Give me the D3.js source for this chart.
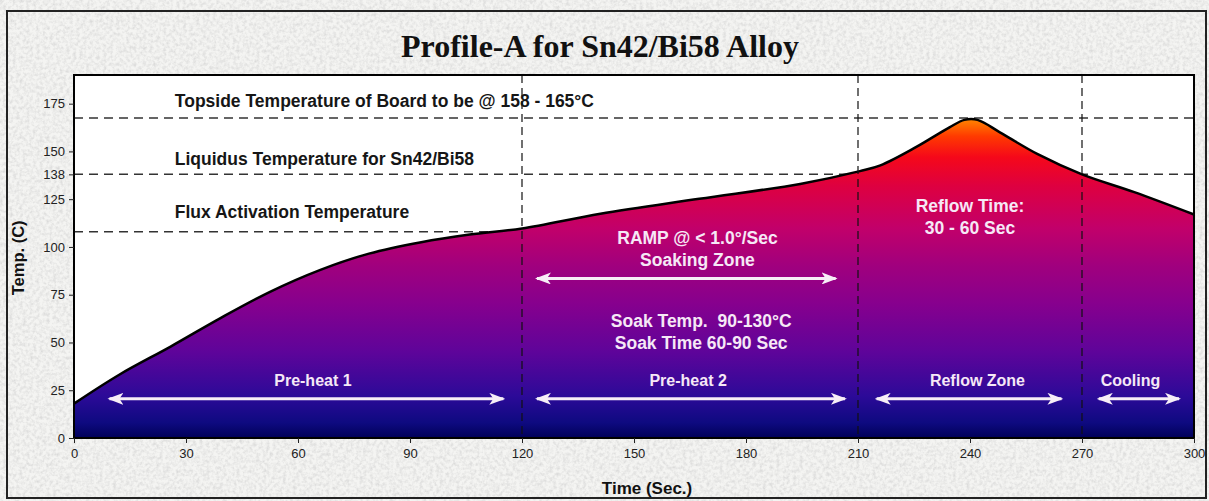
<!DOCTYPE html>
<html>
<head>
<meta charset="utf-8">
<script src="https://cdn.jsdelivr.net/npm/d3@7"></script>
<style>
  body { margin: 0; background: #fff; }
  svg { display: block; }
</style>
</head>
<body>
<script>
// profile data
const times = [0, 12, 26, 39, 52.5, 66, 79, 93, 106, 120, 141, 167.5, 194.5, 210.5, 216, 225.5, 234.5, 238.5, 242, 248, 258, 270, 284, 300]
const temps = [18, 33, 48, 62.5, 76.5, 88, 96.5, 102.5, 106.5, 109.7, 117.4, 125.2, 133, 139.7, 142.7, 152.2, 162.6, 166.5, 166.5, 160, 148.7, 138, 128.7, 117]

const xTicks = [0, 30, 60, 90, 120, 150, 180, 210, 240, 270, 300]
const yTicks = [0, 25, 50, 75, 100, 125, 138, 150, 175]

// reference lines
const refTemps = [167.5, 138, 108]
const refLabels = [
  "Topside Temperature of Board to be @ 158 - 165°C",
  "Liquidus Temperature for Sn42/Bi58",
  "Flux Activation Temperature",
]
const refLabelTemps = [176.5, 146, 118.5]
const zoneBounds = [120, 210, 270]

// zone arrows
const arrowFrom = [9.5, 124, 215, 274.5, 124]
const arrowTo = [115, 206.5, 264.5, 296, 204]
const arrowTemp = [20.5, 20.5, 20.5, 20.5, 83.5]
const zoneLabels = ["Pre-heat 1", "Pre-heat 2", "Reflow Zone", "Cooling"]
const zoneLabelTimes = [64, 164.5, 242, 283]
const zoneLabelTemp = 30

// white notes inside the fill
const notes = ["RAMP @ < 1.0°/Sec", "Soaking Zone", "Soak Temp.  90-130°C", "Soak Time 60-90 Sec", "Reflow Time:", "30 - 60 Sec"]
const noteTimes = [167, 167, 168, 168, 240, 240]
const noteTemps = [104.5, 93, 61.5, 50, 121.5, 110]

const data = times.map((t, i) => ({ t, v: temps[i] }))

const dimensions = {
  width: 1209,
  height: 501,
  margin: { top: 75, right: 15, bottom: 63, left: 74 },
}
dimensions.boundedWidth = 1194 - dimensions.margin.left
dimensions.boundedHeight = 438 - dimensions.margin.top

const svg = d3.select("body").append("svg")
  .attr("width", dimensions.width)
  .attr("height", dimensions.height)

const defs = svg.append("defs")

// marble-ish paper texture
const filt = defs.append("filter").attr("id", "marble")
  .attr("x", 0).attr("y", 0).attr("width", 1).attr("height", 1)
filt.append("feTurbulence")
  .attr("type", "fractalNoise")
  .attr("baseFrequency", 0.3)
  .attr("numOctaves", 3)
  .attr("seed", 4)
filt.append("feColorMatrix")
  .attr("type", "matrix")
  .attr("values", "0 0 0 0 0.6  0 0 0 0 0.6  0 0 0 0 0.6  0 0 0 -1.2 0.75")
filt.append("feComposite").attr("in2", "SourceGraphic").attr("operator", "in")

svg.append("rect")
  .attr("x", 0).attr("y", 0)
  .attr("width", dimensions.width).attr("height", dimensions.height)
  .attr("fill", "#f4f4f2")
svg.append("rect")
  .attr("x", 0).attr("y", 0)
  .attr("width", dimensions.width).attr("height", dimensions.height)
  .attr("fill", "#e4e4e2")
  .attr("filter", "url(#marble)")

// outer frame
svg.append("rect")
  .attr("x", 7).attr("y", 11)
  .attr("width", 1199).attr("height", 487)
  .attr("fill", "none")
  .attr("stroke", "#222")
  .attr("stroke-width", 2)

// title
svg.append("text")
  .attr("x", 600)
  .attr("y", 57)
  .attr("text-anchor", "middle")
  .style("font-family", "'Liberation Serif', 'Times New Roman', serif")
  .style("font-weight", "bold")
  .style("font-size", "32px")
  .attr("fill", "#111")
  .text("Profile-A for Sn42/Bi58 Alloy")

const bounds = svg.append("g")
  .attr("transform", `translate(${dimensions.margin.left}, ${dimensions.margin.top})`)

const xScale = d3.scaleLinear()
  .domain([0, 300])
  .range([0, dimensions.boundedWidth])

const yScale = d3.scaleLinear()
  .domain([0, 190])
  .range([dimensions.boundedHeight, 0])

bounds.append("rect")
  .attr("width", dimensions.boundedWidth)
  .attr("height", dimensions.boundedHeight)
  .attr("fill", "#fff")

// gradient for the area
const peak = d3.max(temps)
const grad = defs.append("linearGradient")
  .attr("id", "heat")
  .attr("gradientUnits", "userSpaceOnUse")
  .attr("x1", 0).attr("x2", 0)
  .attr("y1", yScale(peak)).attr("y2", yScale(0))
const stops = [
  [166, "#ff7e00"], [158, "#ff3a00"], [147, "#f5081a"], [132, "#de0040"],
  [110, "#c2006a"], [90, "#a0007e"], [70, "#86008e"], [45, "#5e049a"],
  [22, "#2c0a98"], [8, "#0e0a80"], [0, "#000058"],
]
stops.forEach(([v, c]) => {
  grad.append("stop")
    .attr("offset", (yScale(v) - yScale(peak)) / (yScale(0) - yScale(peak)))
    .attr("stop-color", c)
})

// horizontal reference lines (behind the fill)
bounds.selectAll(".ref")
  .data(refTemps)
  .join("line")
    .attr("class", "ref")
    .attr("x1", 0)
    .attr("x2", dimensions.boundedWidth)
    .attr("y1", d => yScale(d))
    .attr("y2", d => yScale(d))
    .attr("stroke", "#333")
    .attr("stroke-width", 1.5)
    .attr("stroke-dasharray", "9 6")

const curve = d3.curveCatmullRom.alpha(0.5)

const area = d3.area()
  .x(d => xScale(d.t))
  .y0(yScale(0))
  .y1(d => yScale(d.v))
  .curve(curve)

bounds.append("path")
  .datum(data)
  .attr("d", area)
  .attr("fill", "url(#heat)")

const line = d3.line()
  .x(d => xScale(d.t))
  .y(d => yScale(d.v))
  .curve(curve)

bounds.append("path")
  .datum(data)
  .attr("d", line)
  .attr("fill", "none")
  .attr("stroke", "#000")
  .attr("stroke-width", 2.5)
  .attr("stroke-linejoin", "round")

// zone separators
bounds.selectAll(".zone")
  .data(zoneBounds)
  .join("line")
    .attr("class", "zone")
    .attr("x1", d => xScale(d))
    .attr("x2", d => xScale(d))
    .attr("y1", 0)
    .attr("y2", dimensions.boundedHeight)
    .attr("stroke", "#111")
    .attr("stroke-width", 1.2)
    .attr("stroke-dasharray", "8 5")

// reference labels
bounds.selectAll(".refLabel")
  .data(refLabels)
  .join("text")
    .attr("class", "refLabel")
    .attr("x", xScale(27))
    .attr("y", (d, i) => yScale(refLabelTemps[i]))
    .attr("dy", "0.35em")
    .style("font-family", "'Liberation Sans', Arial, sans-serif")
    .style("font-weight", "bold")
    .style("font-size", "17.5px")
    .attr("fill", "#161616")
    .text(d => d)

// arrows
defs.append("marker")
  .attr("id", "arrow")
  .attr("viewBox", "0 0 16 12")
  .attr("refX", 14).attr("refY", 6)
  .attr("markerWidth", 16).attr("markerHeight", 12)
  .attr("markerUnits", "userSpaceOnUse")
  .attr("orient", "auto-start-reverse")
  .append("path")
    .attr("d", "M0,0 L16,6 L0,12 L4,6 Z")
    .attr("fill", "#f7eef7")

bounds.selectAll(".arrow")
  .data(arrowFrom)
  .join("line")
    .attr("class", "arrow")
    .attr("x1", d => xScale(d))
    .attr("x2", (d, i) => xScale(arrowTo[i]))
    .attr("y1", (d, i) => yScale(arrowTemp[i]))
    .attr("y2", (d, i) => yScale(arrowTemp[i]))
    .attr("stroke", "#f7eef7")
    .attr("stroke-width", 3)
    .attr("marker-start", "url(#arrow)")
    .attr("marker-end", "url(#arrow)")

const whiteText = sel => sel
  .attr("text-anchor", "middle")
  .attr("dy", "0.35em")
  .style("font-family", "'Liberation Sans', Arial, sans-serif")
  .style("font-weight", "bold")
  .style("white-space", "pre")
  .attr("fill", "#f6e8f6")

bounds.selectAll(".zoneLabel")
  .data(zoneLabels)
  .join("text")
    .attr("class", "zoneLabel")
    .attr("x", (d, i) => xScale(zoneLabelTimes[i]))
    .attr("y", yScale(zoneLabelTemp))
    .call(whiteText)
    .style("font-size", "16px")
    .text(d => d)

bounds.selectAll(".note")
  .data(notes)
  .join("text")
    .attr("class", "note")
    .attr("x", (d, i) => xScale(noteTimes[i]))
    .attr("y", (d, i) => yScale(noteTemps[i]))
    .call(whiteText)
    .style("font-size", "17.5px")
    .text(d => d)

// plot frame
bounds.append("rect")
  .attr("width", dimensions.boundedWidth)
  .attr("height", dimensions.boundedHeight)
  .attr("fill", "none")
  .attr("stroke", "#000")
  .attr("stroke-width", 2)

// axes
const xAxis = bounds.append("g")
  .attr("transform", `translate(0, ${dimensions.boundedHeight})`)
  .call(d3.axisBottom(xScale).tickValues(xTicks).tickSize(5).tickPadding(6))
const yAxis = bounds.append("g")
  .call(d3.axisLeft(yScale).tickValues(yTicks).tickSize(5).tickPadding(4))

;[xAxis, yAxis].forEach(ax => {
  ax.select(".domain").remove()
  ax.selectAll("line").attr("stroke", "#222")
  ax.selectAll("text")
    .style("font-family", "'Liberation Sans', Arial, sans-serif")
    .style("font-size", "13px")
    .attr("fill", "#222")
})

svg.append("text")
  .attr("x", dimensions.margin.left + xScale(153.5))
  .attr("y", 494)
  .attr("text-anchor", "middle")
  .style("font-family", "'Liberation Sans', Arial, sans-serif")
  .style("font-weight", "bold")
  .style("font-size", "17px")
  .attr("fill", "#111")
  .text("Time (Sec.)")

svg.append("text")
  .attr("transform", `translate(24, ${dimensions.margin.top + yScale(94.3)}) rotate(-90)`)
  .attr("text-anchor", "middle")
  .style("font-family", "'Liberation Sans', Arial, sans-serif")
  .style("font-weight", "bold")
  .style("font-size", "16.5px")
  .attr("fill", "#111")
  .text("Temp. (C)")
</script>
</body>
</html>
